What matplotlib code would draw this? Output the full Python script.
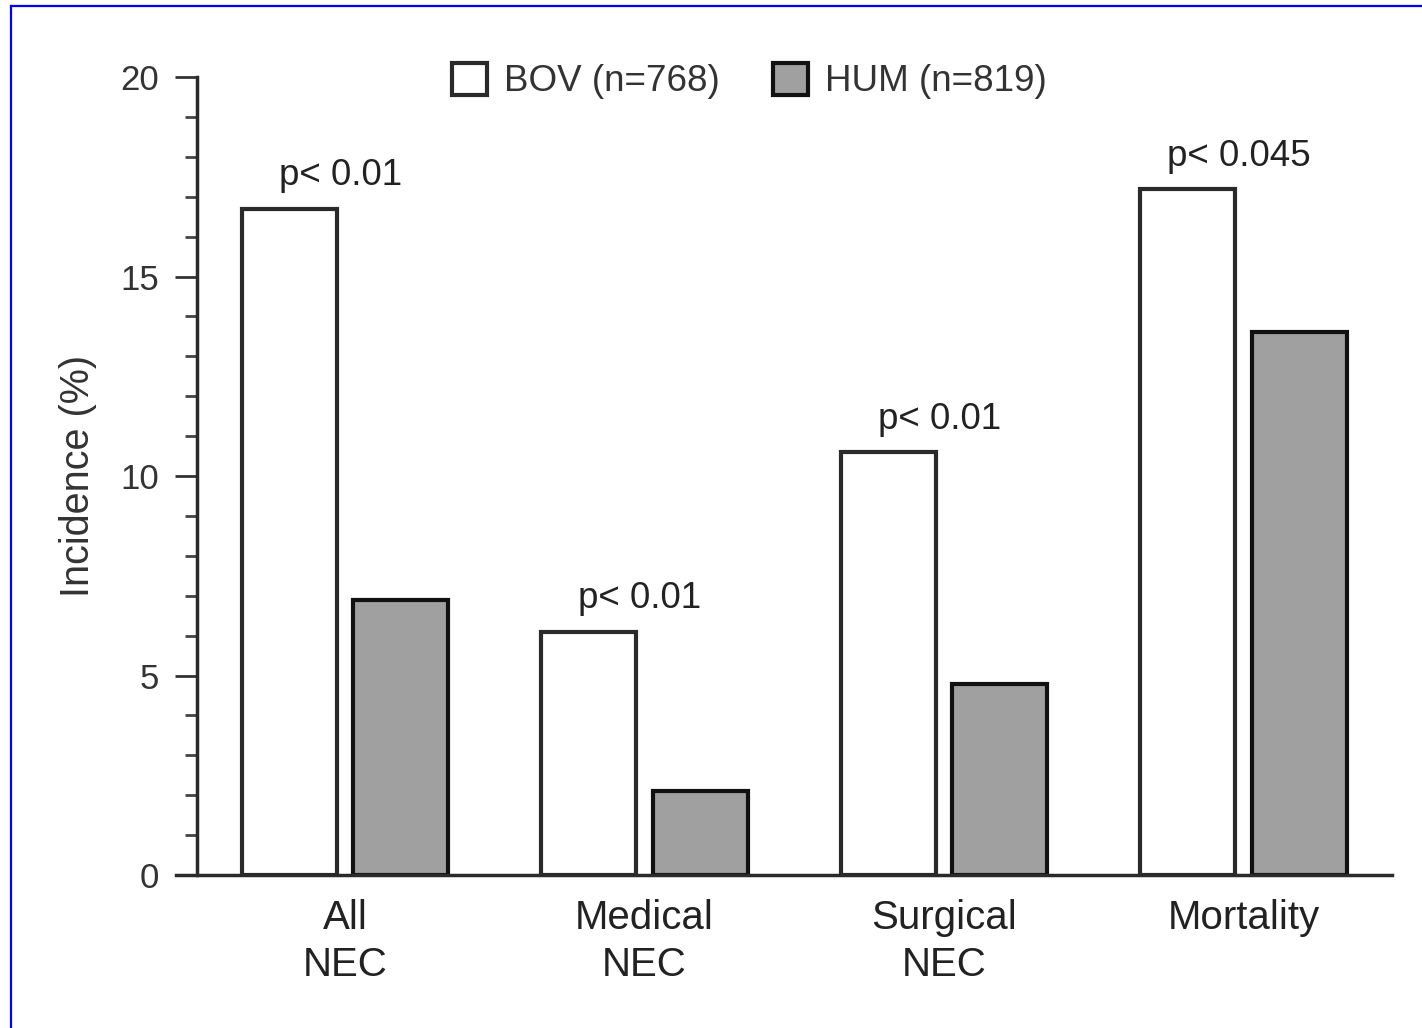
import numpy as np
import matplotlib.pyplot as plt
from matplotlib.lines import Line2D
from matplotlib.ticker import MultipleLocator

plt.rcParams['font.family'] = ['Liberation Sans', 'DejaVu Sans']

# data
categories = ["All\nNEC", "Medical\nNEC", "Surgical\nNEC", "Mortality"]
bov = [16.7, 6.1, 10.6, 17.2]
hum = [6.9, 2.1, 4.8, 13.6]
p_labels = ["p< 0.01", "p< 0.01", "p< 0.01", "p< 0.045"]
series_names = ["BOV (n=768)", "HUM (n=819)"]

x = np.arange(len(categories))
width = 0.317
offset = 0.186

fig = plt.figure(figsize=(14.22, 10.28), dpi=100)
ax = fig.add_axes([0.1385, 0.1488, 0.8405, 0.7762])

ax.bar(x - offset, bov, width, color='white', edgecolor='#2a2a2a',
       linewidth=3, label=series_names[0], zorder=2)
ax.bar(x + offset, hum, width, color='#a0a0a0', edgecolor='#111111',
       linewidth=3, label=series_names[1], zorder=2)

# p-value labels above the tallest bar of each group
for i, lab in enumerate(p_labels):
    top = max(bov[i], hum[i])
    ax.annotate(lab, xy=(x[i] - 0.015, top), xytext=(0, 11),
                textcoords='offset points', ha='center', va='bottom',
                fontsize=26.5, color='#222222')

ax.set_xlim(-0.494, 3.496)
ax.set_ylim(0, 20)
ax.set_xticks(x)
ax.set_xticklabels(categories, fontsize=29, linespacing=1.3, color='#222222')
ax.tick_params(axis='x', length=0, pad=17)

ax.yaxis.set_major_locator(MultipleLocator(5))
ax.yaxis.set_minor_locator(MultipleLocator(1))
ax.tick_params(axis='y', which='major', length=16, width=2, color='#333333',
               labelsize=25, pad=11, labelcolor='#333333')
ax.tick_params(axis='y', which='minor', length=9, width=2, color='#444444')
ax.set_ylabel("Incidence (%)", fontsize=28.5, labelpad=17, color='#333333')

for side in ['top', 'right']:
    ax.spines[side].set_visible(False)
for side in ['left', 'bottom']:
    ax.spines[side].set_linewidth(2.5)
    ax.spines[side].set_color('#2a2a2a')
ax.spines['bottom'].set_bounds(-0.565, 3.496)

leg = fig.legend(loc='center', bbox_to_anchor=(0.527, 0.921), ncol=2,
                 frameon=False, fontsize=26.5, handlelength=0.95,
                 handleheight=0.95, handletextpad=0.45, columnspacing=1.45)
for t in leg.get_texts():
    t.set_color('#333333')

# blue frame lines along top and left of the image
fig.add_artist(Line2D([11 / 1422, 1.0], [1 - 5.5 / 1028, 1 - 5.5 / 1028],
                      transform=fig.transFigure, color='blue', lw=1.6))
fig.add_artist(Line2D([11 / 1422, 11 / 1422], [0.0, 1 - 5.5 / 1028],
                      transform=fig.transFigure, color='blue', lw=1.6))

fig.savefig("out.png", dpi=100)
